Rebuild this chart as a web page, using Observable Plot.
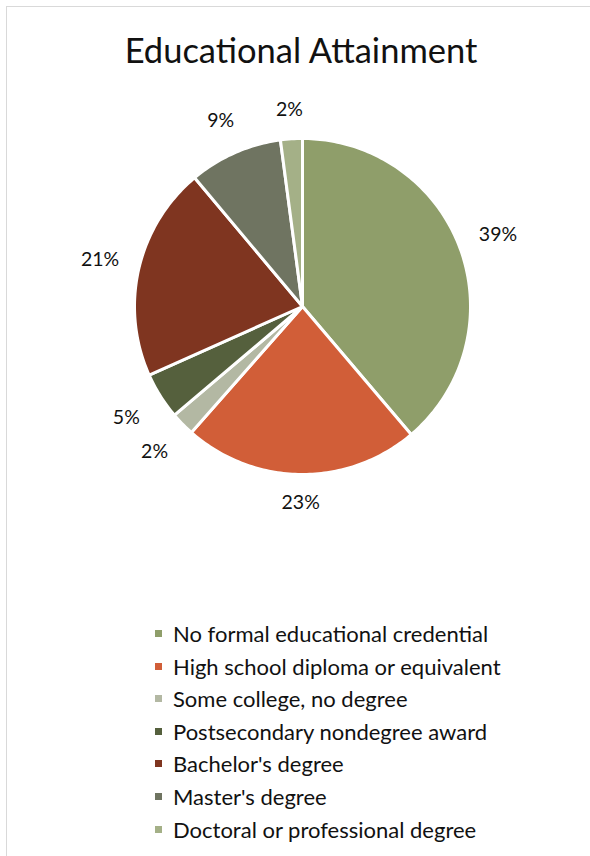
<!DOCTYPE html>
<html>
<head>
<meta charset="utf-8">
<script src="https://cdn.jsdelivr.net/npm/d3@7"></script>
<script src="https://cdn.jsdelivr.net/npm/@observablehq/plot@0.6"></script>
<style>
  html, body { margin: 0; padding: 0; background: #fff; }
  body { width: 590px; height: 856px; font-family: Lato, "Open Sans", sans-serif; color: #111; position: relative; overflow: hidden; }
  #frame { position: absolute; left: 6px; top: 6px; width: 700px; height: 1000px; border-left: 1px solid #D9D9D9; border-top: 1px solid #D9D9D9; pointer-events: none; }
  #title { height: 59px; padding-top: 31px; text-align: center; font-size: 34.5px; line-height: 38px; padding-left: 12px; box-sizing: content-box; }
  #chart { height: 460px; }
  #legend { margin-top: 68px; padding-left: 155px; font-size: 22px; }
  .row { height: 32.6px; line-height: 32.6px; white-space: nowrap; }
  .sw { display: inline-block; width: 7px; height: 7px; margin-right: 11px; vertical-align: 5px; }
</style>
</head>
<body>
<div id="frame"></div>
<div id="title">Educational Attainment</div>
<div id="chart"></div>
<div id="legend"></div>
<script>
const categories = [
  "No formal educational credential",
  "High school diploma or equivalent",
  "Some college, no degree",
  "Postsecondary nondegree award",
  "Bachelor's degree",
  "Master's degree",
  "Doctoral or professional degree"
];
const values = [38.8, 22.7, 2.3, 4.5, 20.6, 9.0, 2.1];
const colors = ["#8F9E6A", "#D15E38", "#B3B8A3", "#55603D", "#7F3520", "#6F7461", "#A4B087"];

const R = 168;
const arcs = d3.pie().sort(null).value(d => d)(values);

const slices = arcs.map((a, i) => {
  const n = Math.max(2, Math.ceil((a.endAngle - a.startAngle) / (Math.PI / 180)));
  const ring = [[0, 0]];
  for (let k = 0; k <= n; k++) {
    const t = a.startAngle + (a.endAngle - a.startAngle) * k / n;
    ring.push([R * Math.sin(t), -R * Math.cos(t)]);
  }
  ring.push([0, 0]);
  return {type: "Feature", properties: {category: categories[i]}, geometry: {type: "Polygon", coordinates: [ring]}};
});

const labels = arcs.map((a, i) => {
  const m = (a.startAngle + a.endAngle) / 2;
  const s = Math.sin(m), c = Math.cos(m);
  const r = R + 18 + 20 * Math.abs(s) + 10 * Math.abs(c);
  return {x: r * s, y: -r * c, label: Math.round(values[i]) + "%"};
});

const H = 216;
const chart = Plot.plot({
  width: 590,
  height: 460,
  marginLeft: 86,
  marginRight: 72,
  marginTop: 0,
  marginBottom: 28,
  style: {fontFamily: "Lato, 'Open Sans', sans-serif", background: "transparent"},
  projection: {
    type: "identity",
    domain: {type: "Polygon", coordinates: [[[-H, -H], [H, -H], [H, H], [-H, H], [-H, -H]]]}
  },
  color: {domain: categories, range: colors},
  marks: [
    Plot.geo(slices, {fill: d => d.properties.category, stroke: "white", strokeWidth: 3, strokeLinejoin: "round"}),
    Plot.text(labels, {x: "x", y: "y", text: "label", fontSize: 19.5, fill: "#111", lineAnchor: "middle"})
  ]
});
document.getElementById("chart").appendChild(chart);

const legend = document.getElementById("legend");
categories.forEach((cat, i) => {
  const row = document.createElement("div");
  row.className = "row";
  const sw = document.createElement("span");
  sw.className = "sw";
  sw.style.background = colors[i];
  row.appendChild(sw);
  row.appendChild(document.createTextNode(cat));
  legend.appendChild(row);
});
</script>
</body>
</html>
